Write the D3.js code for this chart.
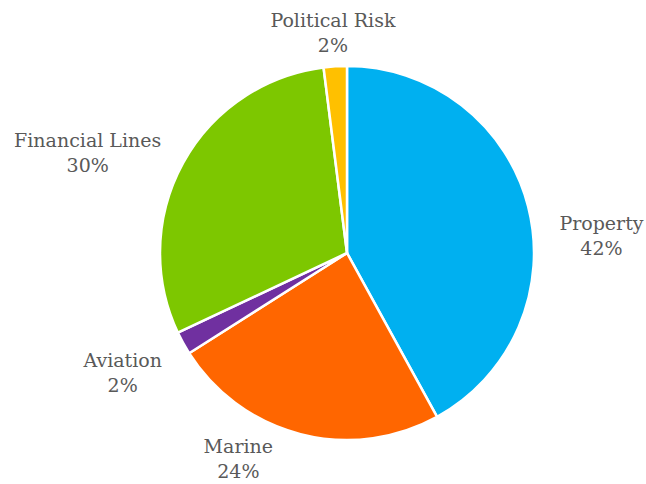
<!DOCTYPE html>
<html>
<head>
<meta charset="utf-8">
<script src="https://cdn.jsdelivr.net/npm/d3@7"></script>
<style>
  body { margin: 0; background: #fff; }
</style>
</head>
<body>
<div id="chart"></div>
<script>
// Data
var categories = ["Property", "Marine", "Aviation", "Financial Lines", "Political Risk"];
var shares = [42, 24, 2, 30, 2];
var colors = ["#00b0f0", "#ff6600", "#7030a0", "#7dc700", "#ffc000"];

// Size of the page
var svgWidth = 646;
var svgHeight = 484;

// Pie placement
var cx = 347;
var cy = 253;
var radius = 187;

// Nudges for the labels (from the label arc centroid)
var labelNudge = {
  "Property": [22, 37],
  "Marine": [-49, -32],
  "Aviation": [-14, -2],
  "Financial Lines": [-49, 10],
  "Political Risk": [1, 14]
};

var data = categories.map(function(c, i) {
  return { name: c, value: shares[i], color: colors[i] };
});

var svg = d3.select("#chart")
  .append("svg")
  .attr("width", svgWidth)
  .attr("height", svgHeight);

var chartGroup = svg.append("g")
  .attr("transform", `translate(${cx}, ${cy})`);

var pie = d3.pie()
  .sort(null)
  .value(d => d.value);

var arc = d3.arc()
  .innerRadius(0)
  .outerRadius(radius);

var labelArc = d3.arc()
  .innerRadius(240)
  .outerRadius(240);

var arcs = pie(data);

// Slices
chartGroup.selectAll("path")
  .data(arcs)
  .enter()
  .append("path")
  .attr("d", arc)
  .attr("fill", d => d.data.color)
  .attr("stroke", "#fff")
  .attr("stroke-width", 2.5)
  .attr("stroke-linejoin", "round");

// Labels: name and percentage
var labels = chartGroup.selectAll(".label")
  .data(arcs)
  .enter()
  .append("text")
  .attr("class", "label")
  .attr("text-anchor", "middle")
  .attr("font-family", "'DejaVu Serif', serif")
  .attr("font-size", "19px")
  .attr("fill", "#595959")
  .attr("transform", function(d) {
    var c = labelArc.centroid(d);
    var n = labelNudge[d.data.name];
    return `translate(${c[0] + n[0]}, ${c[1] + n[1]})`;
  });

labels.append("tspan")
  .attr("x", 0)
  .attr("dy", 0)
  .text(d => d.data.name);

labels.append("tspan")
  .attr("x", 0)
  .attr("dy", 25)
  .text(d => d.data.value + "%");
</script>
</body>
</html>
